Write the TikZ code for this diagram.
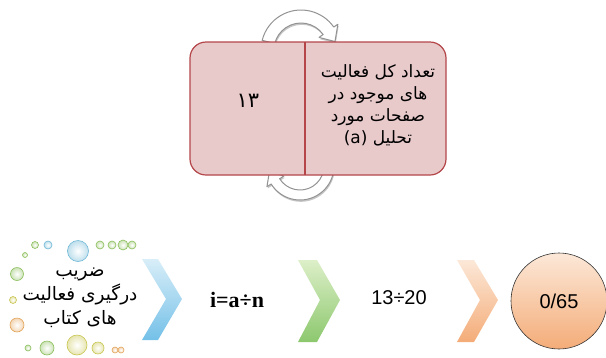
\documentclass[tikz,border=0pt]{standalone}
\usepackage{fontspec}
\setmainfont{Liberation Sans}
\newfontfamily\arabicfont[Script=Arabic]{DejaVu Sans}
\newfontfamily\serifb{Liberation Serif}
\TeXXeTstate=1
\definecolor{boxpink}{HTML}{E9CACB}
\definecolor{boxred}{HTML}{B4464A}
\definecolor{cbluel}{HTML}{D8EEF8}
\definecolor{cblued}{HTML}{74C0E8}
\definecolor{cgreenl}{HTML}{DDEFC8}
\definecolor{cgreend}{HTML}{8CC86E}
\definecolor{corgl}{HTML}{FCE8D8}
\definecolor{corgd}{HTML}{F4AC78}
\definecolor{dotblue}{HTML}{6FB8D6}
\definecolor{dotgreen}{HTML}{8CBF5C}
\definecolor{dotyellow}{HTML}{C9C650}
\definecolor{dotorange}{HTML}{E3A45A}
\begin{document}
\begin{tikzpicture}[x=1pt,y=-1pt,
  boxst/.style={fill=boxpink,draw=boxred,line width=1.2pt},
  cyc/.style={fill=white,draw=gray!85,line width=1pt,line join=round,
    preaction={fill=gray!45,transform canvas={shift={(0.8pt,-1.8pt)}}}},
  fa/.style={font=\arabicfont\fontsize{17}{22}\selectfont,align=center,inner sep=0pt},
  dot/.style={draw=#1,line width=0.6pt,inner color=white,outer color=#1!45},
]
\useasboundingbox (0,0) rectangle (606,357);
% circular arrows
\begin{scope}[shift={(301,50)}]
\draw[cyc] (194:40) arc[start angle=194,end angle=325,radius=40] -- (325:45) -- (346:35) -- (325:22) -- (325:27) arc[start angle=325,end angle=194,radius=27] -- cycle;
\end{scope}
\begin{scope}[shift={(300,166)}]
\draw[cyc] (10:34) arc[start angle=10,end angle=148,radius=34] -- (148:39) -- (170:31) -- (148:19) -- (148:24) arc[start angle=148,end angle=10,radius=24] -- cycle;
\end{scope}
% boxes
\begin{scope}
\clip (180,30) rectangle (305,190);
\draw[boxst,rounded corners=16pt] (190,42) rectangle (330,175);
\end{scope}
\begin{scope}
\clip (305,30) rectangle (470,190);
\draw[boxst,rounded corners=16pt] (280,42) rectangle (446,175);
\end{scope}
\draw[boxred,line width=1.2pt] (305,42) -- (305,175);
\node[fa,font=\arabicfont\fontsize{21}{22}\selectfont] (n13) at (248,101) {\beginR ۱۳\endR};
\node[fa] (atext) at (378,105) {\beginR تعداد کل فعالیت\endR\\\beginR های موجود در\endR\\\beginR صفحات مورد\endR\\\beginR تحلیل \beginL(a)\endL\endR};
% dots
\foreach \x/\y/\r/\c in {25/255/2.5/dotgreen,35/245/3.5/dotgreen,48/245/4/dotblue,78/251/10.5/dotblue,100/245/4/dotgreen,112/245/4/dotgreen,123/245/5/dotgreen,132/245/4/dotgreen,
  17/274/6.5/dotgreen,13/300/3.5/dotyellow,17/325/7/dotorange,
  28/348/3/dotgreen,47/348/7/dotgreen,77/345/10/dotyellow,98/348/6/dotyellow,115/350/3/dotorange,121/350/3/dotorange}
  \shade[dot=\c] (\x,\y) circle[radius=\r];
\node[fa,font=\arabicfont\fontsize{18.5}{24}\selectfont] (coef) at (80,298) {\beginR ضریب\endR\\\beginR درگیری فعالیت\endR\\\beginR های کتاب\endR};
% chevrons
\shade[top color=cbluel,bottom color=cblued] (142,259) -- (158,259) -- (182,299) -- (158,340) -- (142,340) -- (166,299) -- cycle;
\shade[top color=cgreenl,bottom color=cgreend] (298,260) -- (317,260) -- (340,300) -- (317,342) -- (298,342) -- (320,300) -- cycle;
\shade[top color=corgl,bottom color=corgd] (457,260) -- (474,260) -- (498,300) -- (474,342) -- (457,342) -- (480,300) -- cycle;
\node[font=\serifb\bfseries\fontsize{22}{22}\selectfont] (form) at (237,300) {i=a÷n};
\node[font=\fontsize{20}{20}\selectfont] (num) at (399,298) {13÷20};
\node[circle,minimum size=96pt,draw=black!80,line width=0.6pt,top color=corgl,bottom color=corgd,font=\fontsize{20}{20}\selectfont] (res) at (559,301) {0/65};
\end{tikzpicture}
\end{document}
